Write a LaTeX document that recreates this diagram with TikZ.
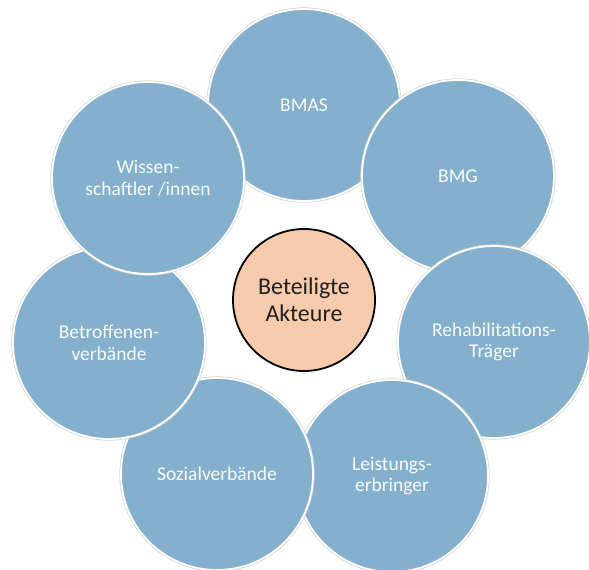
\documentclass[tikz,border=0pt]{standalone}
\usepackage{fontspec}
\setmainfont{Carlito}
\definecolor{actorblue}{HTML}{84B0CD}
\definecolor{centerpeach}{HTML}{F8CBAD}
\definecolor{centertext}{HTML}{202020}
\begin{document}
\begin{tikzpicture}[x=1pt,y=-1pt,
  actor/.style={circle, minimum size=192pt, inner sep=0pt,
    fill=actorblue, draw=white, line width=1.8pt,
    preaction={draw=gray!35, line width=3.2pt},
    text=white!96!actorblue, font=\fontsize{19.5}{21.8}\selectfont, align=center},
  hub/.style={circle, minimum size=142pt, inner sep=0pt,
    fill=centerpeach, draw=black, line width=1.8pt,
    text=centertext, font=\fontsize{24}{26.7}\selectfont, align=center}]
\useasboundingbox (0,0) rectangle (589,570);
\fill[white] (0,0) rectangle (589,570);
\node[actor] (bmas)   at (304,105) {BMAS};
\node[actor] (bmg)    at (458,176) {BMG};
\node[actor] (reha)   at (494,342) {Rehabilitations-\\Träger};
\node[actor] (leist)  at (392,476) {Leistungs-\\erbringer};
\node[actor] (sozial) at (217,474) {Sozialverbände};
\node[actor] (betr)   at (109,343) {Betroffenen-\\verbände};
\node[actor] (wiss)   at (148,178) {Wissen-\\schaftler /innen};
\node[hub]   (hub)    at (304,300) {Beteiligte\\Akteure};
\end{tikzpicture}
\end{document}
